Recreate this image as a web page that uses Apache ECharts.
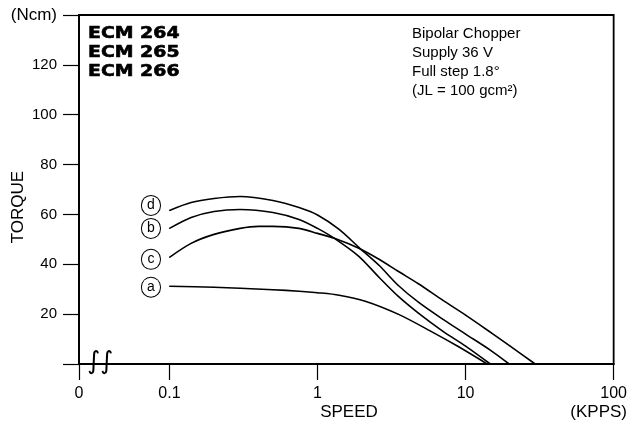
<!DOCTYPE html>
<html>
<head>
<meta charset="utf-8">
<script src="https://cdn.jsdelivr.net/npm/echarts@6/dist/echarts.min.js"></script>
<style>
  html, body { margin: 0; padding: 0; background: #fff; }
  #main { width: 630px; height: 426px; }
</style>
</head>
<body>
<div id="main"></div>
<script>
// 数据 (speed in KPPS, torque in Ncm)
var speedA = [0.1, 0.2, 0.3, 0.5, 0.75, 1, 1.4, 2.1, 3.5, 5.8, 8.8, 14];
var torqueA = [31.2, 30.8, 30.4, 29.8, 29.2, 28.6, 27.6, 25.2, 20, 13.2, 7.2, 0];

var speedB = [0.1, 0.14, 0.2, 0.3, 0.5, 0.75, 1, 1.3, 1.9, 2.6, 3.5, 4.8, 7, 10, 14.7];
var torqueB = [54.4, 58.8, 61.2, 62, 60.8, 58, 54.4, 50.4, 43.2, 34.8, 27.2, 20.4, 13.2, 7.2, 0];

var speedC = [0.1, 0.14, 0.2, 0.3, 0.4, 0.5, 0.75, 1, 1.3, 1.9, 2.6, 3.5, 4.8, 7, 10, 15, 20, 29.5];
var torqueC = [42.8, 48.4, 52, 54.4, 55.2, 55.2, 54.4, 52.4, 50.4, 46.4, 42, 37.2, 32.2, 25.6, 19.6, 12.4, 7.2, 0];

var speedD = [0.1, 0.14, 0.2, 0.3, 0.5, 0.75, 1, 1.4, 1.9, 2.6, 3.5, 4.8, 7, 10, 15, 19.7];
var torqueD = [61.6, 64.8, 66.4, 67.2, 65.6, 62.8, 59.8, 54, 46.8, 39.6, 31.6, 24.8, 18, 12, 5.2, 0];

var curveNames = ['a', 'b', 'c', 'd'];
// x axis: the "0" position sits left of 0.1 on the broken log axis
var xZero = 0.02449;
var xTicks = [xZero, 0.1, 1, 10, 100];
var yMax = 140;

var font = 'Liberation Sans, Arial, sans-serif';

function makeData(speeds, torques, name, dy) {
    var arr = [];
    for (var i = 0; i < speeds.length; i++) {
        var item = { value: [speeds[i], torques[i]] };
        if (i === 0) {
            item.label = {
                show: true,
                position: 'left',
                distance: 0,
                offset: [-18, dy],
                formatter: name,
                fontFamily: font,
                fontSize: 14,
                color: '#000',
                width: 18,
                height: 18,
                lineHeight: 18,
                align: 'center',
                verticalAlign: 'middle',
                borderColor: '#000',
                borderWidth: 1,
                borderRadius: 10,
                backgroundColor: '#fff',
                padding: [0, 0, 1, 0]
            };
        }
        arr.push(item);
    }
    return arr;
}

function lineSeries(name, data) {
    return {
        name: name,
        type: 'line',
        data: data,
        smooth: 0.3,
        symbol: 'circle',
        symbolSize: 1,
        itemStyle: { color: '#000' },
        lineStyle: { color: '#000', width: 1.6 },
        silent: true
    };
}

var dom = document.getElementById('main');
var myChart = echarts.init(dom);
var option = {
    animation: false,
    backgroundColor: '#fff',
    grid: {
        left: 79,
        right: 13,
        top: 15,
        bottom: 62,
        show: true,
        borderColor: '#000',
        borderWidth: 1.8,
        containLabel: false
    },
    xAxis: {
        type: 'log',
        min: xZero,
        max: 100,
        axisLine: { lineStyle: { color: '#000', width: 1.8 } },
        axisTick: {
            show: true,
            length: 16,
            customValues: xTicks,
            lineStyle: { color: '#000', width: 1.2 }
        },
        axisLabel: {
            customValues: xTicks,
            margin: 22,
            fontFamily: font,
            fontSize: 16,
            color: '#000',
            showMinLabel: true,
            showMaxLabel: true,
            formatter: function (v) {
                if (v < 0.05) return '0';
                if (v < 0.5) return '0.1';
                return String(Math.round(v));
            }
        },
        splitLine: { show: false },
        minorTick: { show: false }
    },
    yAxis: {
        type: 'value',
        min: 0,
        max: yMax,
        interval: 20,
        axisLine: { show: true, lineStyle: { color: '#000', width: 1.8 } },
        axisTick: { show: true, length: 16, lineStyle: { color: '#000', width: 1.2 } },
        axisLabel: {
            margin: 22,
            fontFamily: font,
            fontSize: 15,
            color: '#000',
            showMinLabel: true,
            showMaxLabel: true,
            formatter: function (v) {
                if (v === 0) return '';
                if (v === yMax) return '{u|(Ncm)}';
                return String(v);
            },
            rich: { u: { fontFamily: font, fontSize: 17, color: '#000' } }
        },
        splitLine: { show: false }
    },
    series: [
        lineSeries('a', makeData(speedA, torqueA, curveNames[0], 1)),
        lineSeries('b', makeData(speedB, torqueB, curveNames[1], 0)),
        lineSeries('c', makeData(speedC, torqueC, curveNames[2], 2)),
        lineSeries('d', makeData(speedD, torqueD, curveNames[3], -5))
    ],
    graphic: [
        {
            type: 'text', x: 18, y: 207, rotation: Math.PI / 2,
            style: { text: 'TORQUE', fontFamily: font, fontSize: 17, fill: '#000', align: 'center', verticalAlign: 'middle' }
        },
        {
            type: 'text', x: 349, y: 412,
            style: { text: 'SPEED', fontFamily: font, fontSize: 17, fill: '#000', align: 'center', verticalAlign: 'middle' }
        },
        {
            type: 'text', x: 627, y: 412,
            style: { text: '(KPPS)', fontFamily: font, fontSize: 17, fill: '#000', align: 'right', verticalAlign: 'middle' }
        },
        {
            type: 'text', x: 100, y: 362,
            style: { text: '∫∫', fontFamily: 'DejaVu Sans', fontSize: 25, fill: '#000', align: 'center', verticalAlign: 'middle' }
        },
        {
            type: 'text', x: 88, y: 24, scaleX: 1.18,
            style: {
                text: 'ECM 264\nECM 265\nECM 266',
                fontFamily: 'DejaVu Sans', fontWeight: 'bold', fontSize: 16, lineHeight: 19, fill: '#000',
                stroke: '#000', lineWidth: 0.6,
                align: 'left', verticalAlign: 'top'
            }
        },
        {
            type: 'text', x: 412, y: 24,
            style: {
                text: 'Bipolar Chopper\nSupply 36 V\nFull step 1.8°\n(JL = 100 gcm²)',
                fontFamily: font, fontSize: 15, lineHeight: 19, fill: '#000',
                align: 'left', verticalAlign: 'top'
            }
        }
    ]
};
if (option && typeof option === "object") {
    myChart.setOption(option, true);
}
</script>
</body>
</html>
